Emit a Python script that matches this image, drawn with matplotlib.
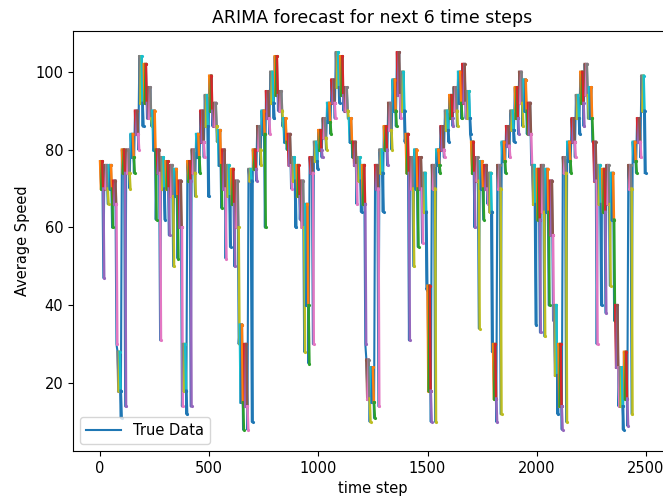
import matplotlib
matplotlib.use("Agg")
import matplotlib.pyplot as plt

# time step at the start of each 20-step window
window_start = list(range(0, 2500, 20))

# highest / typical / lowest speed seen in each window
speed_high = [
    77, 76, 76, 72, 28, 80, 80, 84, 90, 104,
    102, 96, 90, 80, 78, 77, 76, 75, 72, 30,
    77, 80, 84, 90, 94, 99, 92, 85, 80, 76,
    75, 72, 35, 30, 75, 80, 86, 90, 95, 100,
    104, 95, 88, 84, 78, 76, 72, 66, 78, 82,
    85, 88, 92, 98, 105, 104, 96, 88, 82, 78,
    76, 26, 24, 76, 80, 86, 92, 98, 105, 100,
    84, 78, 80, 78, 74, 45, 76, 80, 86, 90,
    94, 96, 100, 102, 95, 82, 78, 77, 76, 74,
    30, 76, 82, 86, 90, 96, 100, 98, 92, 76,
    75, 76, 75, 72, 40, 30, 78, 82, 88, 94,
    100, 102, 96, 82, 76, 75, 76, 74, 40, 24,
    28, 76, 82, 88, 99,
]
speed_mid = [
    70, 70, 70, 66, 18, 74, 74, 78, 84, 92,
    92, 88, 80, 74, 70, 70, 68, 68, 60, 18,
    72, 74, 78, 82, 86, 90, 86, 76, 70, 68,
    66, 60, 15, 14, 72, 75, 80, 84, 88, 92,
    94, 90, 82, 76, 72, 68, 60, 40, 74, 77,
    80, 83, 87, 92, 96, 94, 90, 82, 76, 72,
    66, 16, 15, 70, 74, 80, 85, 90, 94, 90,
    74, 70, 70, 70, 64, 18, 70, 76, 80, 85,
    88, 90, 92, 92, 88, 74, 72, 70, 70, 64,
    16, 70, 77, 81, 85, 88, 92, 90, 84, 66,
    62, 64, 64, 58, 22, 14, 74, 77, 82, 88,
    92, 94, 88, 72, 66, 64, 66, 62, 24, 14,
    16, 70, 77, 82, 90,
]
speed_low = [
    47, 66, 60, 30, 11, 14, 70, 74, 80, 86,
    88, 86, 62, 31, 62, 58, 50, 52, 14, 12,
    14, 68, 74, 78, 68, 86, 82, 65, 52, 55,
    50, 30, 8, 8, 10, 72, 76, 60, 84, 88,
    90, 86, 80, 70, 60, 62, 28, 25, 30, 75,
    78, 80, 84, 88, 92, 90, 88, 78, 66, 64,
    30, 10, 11, 14, 64, 76, 80, 86, 88, 82,
    31, 50, 55, 56, 44, 10, 10, 74, 78, 82,
    86, 86, 88, 88, 84, 60, 34, 62, 66, 28,
    10, 12, 74, 78, 82, 84, 86, 84, 76, 35,
    33, 32, 40, 36, 12, 8, 10, 74, 78, 84,
    86, 88, 82, 30, 40, 38, 45, 36, 14, 8,
    9, 12, 74, 78, 74,
]

plt.rcParams["font.size"] = 10.5

fig = plt.figure(figsize=(6.63, 4.98), dpi=100)
ax = fig.add_axes([73 / 663, 47 / 498, (672 - 73) / 663, 420 / 498])

# true series: moves around the band of each window, one dip to the low
true_x = []
true_y = []
for t, hi, mid, lo in zip(window_start, speed_high, speed_mid, speed_low):
    true_x += [t, t + 5, t + 10, t + 15]
    true_y += [hi, mid, hi, lo]
ax.plot(true_x, true_y, label="True Data")

# 6-step forecasts, each one in the next colour of the cycle
for t, hi, mid, lo in zip(window_start, speed_high, speed_mid, speed_low):
    strokes = [(hi, mid), (mid, hi), (hi, mid), (mid, lo)]
    for off, (y0, y1) in zip([0, 5, 10, 15], strokes):
        ax.plot([t + off, t + off + 4], [y0, y1], marker=".", markersize=2.5, linewidth=1.8)

ax.set_xlim(-124, 2620)
ax.set_ylim(2.5, 110.5)
ax.set_xticks([0, 500, 1000, 1500, 2000, 2500])
ax.set_yticks([20, 40, 60, 80, 100])
ax.set_title("ARIMA forecast for next 6 time steps", fontsize=12.5)
ax.set_xlabel("time step")
ax.set_ylabel("Average Speed")
ax.legend(loc="lower left", handlelength=2.4)

fig.savefig("out.png", dpi=100)
